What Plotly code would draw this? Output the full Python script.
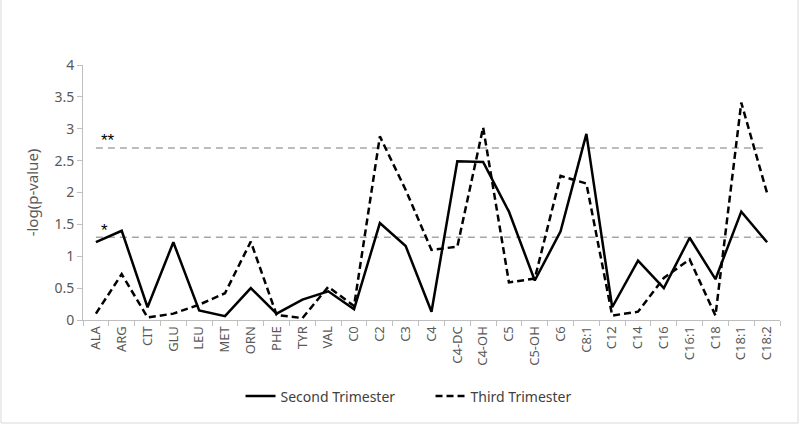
import plotly.graph_objects as go

categories = ["ALA", "ARG", "CIT", "GLU", "LEU", "MET", "ORN", "PHE", "TYR", "VAL",
              "C0", "C2", "C3", "C4", "C4-DC", "C4-OH", "C5", "C5-OH", "C6", "C8:1",
              "C12", "C14", "C16", "C16:1", "C18", "C18:1", "C18:2"]
second_trimester = [1.22, 1.40, 0.20, 1.22, 0.15, 0.06, 0.50, 0.10, 0.32, 0.45,
                    0.17, 1.52, 1.16, 0.13, 2.49, 2.48, 1.70, 0.62, 1.39, 2.92,
                    0.20, 0.93, 0.50, 1.29, 0.64, 1.70, 1.22]
third_trimester = [0.10, 0.72, 0.04, 0.10, 0.24, 0.42, 1.23, 0.08, 0.03, 0.52,
                   0.22, 2.88, 2.04, 1.10, 1.15, 3.02, 0.59, 0.65, 2.26, 2.14,
                   0.07, 0.13, 0.66, 0.95, 0.07, 3.41, 1.99]
threshold_1 = 1.3   # p = 0.05
threshold_2 = 2.7   # p = 0.002
y_ticks = [0, 0.5, 1, 1.5, 2, 2.5, 3, 3.5, 4]

W, H = 800, 424
L, R, T, B = 83, 20, 65, 104
pw = W - L - R
ph = H - T - B

fig = go.Figure()
fig.add_trace(go.Scatter(x=categories, y=[threshold_2] * len(categories), mode="lines",
                         line=dict(color="#a6a6a6", width=1.5, dash="7px,5px"),
                         showlegend=False, hoverinfo="skip"))
fig.add_trace(go.Scatter(x=categories, y=[threshold_1] * len(categories), mode="lines",
                         line=dict(color="#a6a6a6", width=1.5, dash="7px,5px"),
                         showlegend=False, hoverinfo="skip"))
fig.add_trace(go.Scatter(x=categories, y=second_trimester, mode="lines",
                         name="Second Trimester",
                         line=dict(color="black", width=2.5)))
fig.add_trace(go.Scatter(x=categories, y=third_trimester, mode="lines",
                         name="Third Trimester",
                         line=dict(color="black", width=2.5, dash="7px,4px")))

fig.add_annotation(x=0, y=threshold_2, xref="x", yref="y", text="**", showarrow=False,
                   xanchor="left", yanchor="bottom", xshift=3, yshift=-4,
                   font=dict(size=17, color="black", family="Liberation Sans"))
fig.add_annotation(x=0, y=threshold_1, xref="x", yref="y", text="*", showarrow=False,
                   xanchor="left", yanchor="bottom", xshift=3, yshift=-5,
                   font=dict(size=17, color="black", family="Liberation Sans"))

fig.add_shape(type="rect", xref="paper", yref="paper",
              x0=(1 - L) / pw, x1=(W - 2 - L) / pw,
              y0=-(H - 1 - T - ph) / ph, y1=(H - T - 1) / ph,
              line=dict(color="#d9d9d9", width=1), layer="below")

fig.update_layout(
    width=W, height=H,
    margin=dict(l=L, r=R, t=T, b=B),
    paper_bgcolor="white", plot_bgcolor="white",
    font=dict(family="Noto Sans", size=13, color="#595959"),
    legend=dict(orientation="h", x=0.226, xanchor="left", y=-0.30, yanchor="middle",
                font=dict(size=14, color="#404040"), entrywidth=145,
                tracegroupgap=0),
    xaxis=dict(type="category", tickangle=-90, showline=True, linecolor="#bfbfbf",
               linewidth=1, ticks="outside", tickson="boundaries", ticklen=5,
               tickcolor="#bfbfbf", showgrid=False, zeroline=False,
               tickfont=dict(size=13, color="#595959"),
               range=[-0.5, len(categories) - 0.5]),
    yaxis=dict(range=[0, 4], tickvals=y_ticks, ticktext=[f"{v:g}" for v in y_ticks],
               showline=True, linecolor="#bfbfbf", linewidth=1,
               ticks="outside", ticklen=5, tickcolor="#bfbfbf",
               showgrid=False, zeroline=False,
               title=dict(text="-log(p-value)", font=dict(size=15, color="#595959"),
                          standoff=12),
               tickfont=dict(size=14, color="#595959")),
)

fig.write_html("out.html", config={"displayModeBar": False},
               post_script="document.body.style.margin='0';document.body.style.overflow='hidden';")
